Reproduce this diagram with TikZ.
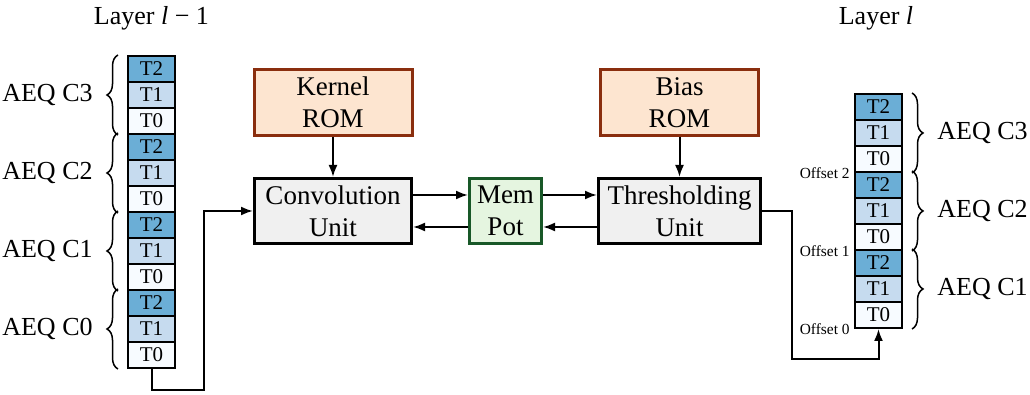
\documentclass[tikz,border=0pt]{standalone}
\usepackage{fontspec}
\setmainfont{Liberation Serif}
\usetikzlibrary{positioning,arrows.meta,decorations.pathreplacing}
\definecolor{blueTwo}{RGB}{107,174,214}
\definecolor{blueOne}{RGB}{198,219,239}
\definecolor{blueZero}{RGB}{247,251,255}
\definecolor{romFill}{RGB}{253,229,208}
\definecolor{romLine}{RGB}{138,46,14}
\definecolor{unitFill}{RGB}{240,240,240}
\definecolor{memFill}{RGB}{229,245,224}
\definecolor{memLine}{RGB}{24,88,40}
\begin{document}
\begin{tikzpicture}[x=0.5pt, y=-0.5pt,
    cell/.style={draw, line width=1pt, minimum width=23.5pt, minimum height=13pt, inner sep=0pt, font=\fontsize{10.5}{12}\selectfont},
    t2cell/.style={cell, fill=blueTwo},
    t1cell/.style={cell, fill=blueOne},
    t0cell/.style={cell, fill=blueZero},
    brc/.style={decorate, decoration={brace, amplitude=5.5pt}, line width=0.75pt},
    aeq/.style={inner sep=0pt, font=\fontsize{13}{15}\selectfont},
    offs/.style={inner sep=0pt, font=\fontsize{7.7}{9}\selectfont},
    layer/.style={font=\fontsize{13}{15}\selectfont},
    box/.style={align=center, inner sep=0pt, font=\fontsize{13.5}{16}\selectfont},
    rom/.style={box, draw=romLine, fill=romFill, line width=1.5pt, minimum width=79pt, minimum height=33pt},
    unit/.style={box, draw, fill=unitFill, line width=1.6pt, minimum width=78.4pt, minimum height=32.4pt},
    mem/.style={box, draw=memLine, fill=memFill, line width=1.3pt, minimum width=36.2pt, minimum height=32.7pt},
    arr/.style={-{Latex[length=6pt,width=4.5pt]}, line width=1pt}]
    \useasboundingbox (0, 0) rectangle (1030, 395);
    % layer l-1
    \node[layer] (layprev) at (151.5, 18) {Layer \textit{l} − 1};
    \node[t2cell] (p3t2) at (151.5, 69) {T2};
    \node[t1cell] (p3t1) at (151.5, 95) {T1};
    \node[t0cell] (p3t0) at (151.5, 121) {T0};
    \node[t2cell] (p2t2) at (151.5, 147) {T2};
    \node[t1cell] (p2t1) at (151.5, 173) {T1};
    \node[t0cell] (p2t0) at (151.5, 199) {T0};
    \node[t2cell] (p1t2) at (151.5, 225) {T2};
    \node[t1cell] (p1t1) at (151.5, 251) {T1};
    \node[t0cell] (p1t0) at (151.5, 277) {T0};
    \node[t2cell] (p0t2) at (151.5, 303) {T2};
    \node[t1cell] (p0t1) at (151.5, 329) {T1};
    \node[t0cell] (p0t0) at (151.5, 355) {T0};
    \draw[brc] ([xshift=-4.5pt]p3t0.south west) -- ([xshift=-4.5pt]p3t2.north west);
    \draw[brc] ([xshift=-4.5pt]p2t0.south west) -- ([xshift=-4.5pt]p2t2.north west);
    \draw[brc] ([xshift=-4.5pt]p1t0.south west) -- ([xshift=-4.5pt]p1t2.north west);
    \draw[brc] ([xshift=-4.5pt]p0t0.south west) -- ([xshift=-4.5pt]p0t2.north west);
    \node[aeq, left=17pt of p3t1] (pc3) {AEQ C3};
    \node[aeq, left=17pt of p2t1] (pc2) {AEQ C2};
    \node[aeq, left=17pt of p1t1] (pc1) {AEQ C1};
    \node[aeq, left=17pt of p0t1] (pc0) {AEQ C0};
    % units
    \node[rom] (kernel) at (333, 102.5) {Kernel\\ROM};
    \node[unit] (conv) at (333, 211) {Convolution\\Unit};
    \node[mem] (mem) at (505.5, 211) {Mem\\Pot};
    \node[rom] (bias) at (679.5, 102.5) {Bias\\ROM};
    \node[unit, minimum width=80.9pt] (thres) at (679.5, 211) {Thresholding\\Unit};
    \draw[arr] (kernel) -- (conv);
    \draw[arr] (bias) -- (thres);
    \draw[arr] ([yshift=8pt]conv.east) -- ([yshift=8pt]mem.west);
    \draw[arr] ([yshift=8pt]mem.east) -- ([yshift=8pt]thres.west);
    \draw[arr] ([yshift=-8pt]thres.west) -- ([yshift=-8pt]mem.east);
    \draw[arr] ([yshift=-8pt]mem.west) -- ([yshift=-8pt]conv.east);
    % layer l
    \node[layer] (laynext) at (876, 18) {Layer \textit{l}};
    \node[t2cell] (n3t2) at (878.5, 107) {T2};
    \node[t1cell] (n3t1) at (878.5, 133) {T1};
    \node[t0cell] (n3t0) at (878.5, 159) {T0};
    \node[t2cell] (n2t2) at (878.5, 185) {T2};
    \node[t1cell] (n2t1) at (878.5, 211) {T1};
    \node[t0cell] (n2t0) at (878.5, 237) {T0};
    \node[t2cell] (n1t2) at (878.5, 263) {T2};
    \node[t1cell] (n1t1) at (878.5, 289) {T1};
    \node[t0cell] (n1t0) at (878.5, 315) {T0};
    \draw[brc] ([xshift=4.5pt]n3t2.north east) -- ([xshift=4.5pt]n3t0.south east);
    \draw[brc] ([xshift=4.5pt]n2t2.north east) -- ([xshift=4.5pt]n2t0.south east);
    \draw[brc] ([xshift=4.5pt]n1t2.north east) -- ([xshift=4.5pt]n1t0.south east);
    \node[aeq, right=17pt of n3t1] (nc3) {AEQ C3};
    \node[aeq, right=17pt of n2t1] (nc2) {AEQ C2};
    \node[aeq, right=17pt of n1t1] (nc1) {AEQ C1};
    \node[offs, left=2pt of n3t0.south west] (off2) {Offset 2};
    \node[offs, left=2pt of n2t0.south west] (off1) {Offset 1};
    \node[offs, left=2pt of n1t0.south west] (off0) {Offset 0};
    % links between layers
    \coordinate (lbend) at (204, 390);
    \coordinate (rbend) at (792, 359);
    \draw[arr] (p0t0.south) |- (lbend) |- (conv.west);
    \draw[arr] (thres.east) -| (rbend) -| (n1t0.south);
  \end{tikzpicture}
\end{document}
